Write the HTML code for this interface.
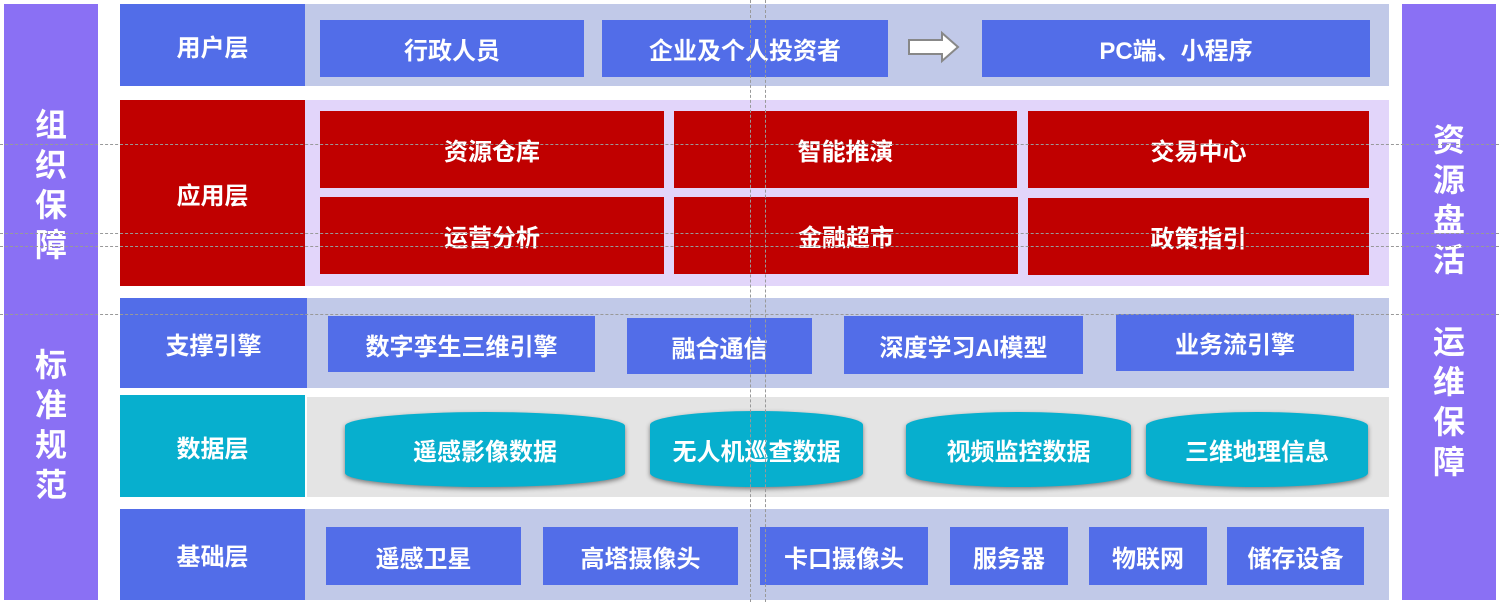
<!DOCTYPE html>
<html><head><meta charset="utf-8"><style>
body{margin:0;width:1499px;height:602px;position:relative;background:#fff;overflow:hidden;font-family:"Liberation Sans","Noto Sans CJK SC",sans-serif;font-weight:bold;color:#fff}
div{position:absolute;box-sizing:border-box}
.c{display:flex;align-items:center;justify-content:center;font-size:24px}
.b{background:#526DE8}
.r{background:#C00000}
.side{background:#8A70F4;width:94px;top:4px;height:596px}
.v{font-size:32px;line-height:40px;width:94px;text-align:center}
.cyl{background:#07AFCE;border-radius:50%/14px;box-shadow:0 2px 5px rgba(0,0,0,.45)}
.dh{left:0;width:1499px;height:0;border-top:1px dashed #999}
.dv{top:0;height:602px;width:0;border-left:1px dashed #999}
</style></head><body>
<div class="side" style="left:4px"></div>
<div class="side" style="left:1402px"></div>
<div class="v" style="left:4px;top:105px">组<br>织<br>保<br>障</div>
<div class="v" style="left:4px;top:345px">标<br>准<br>规<br>范</div>
<div class="v" style="left:1402px;top:120px">资<br>源<br>盘<br>活</div>
<div class="v" style="left:1402px;top:322px">运<br>维<br>保<br>障</div>

<div style="left:305px;top:4px;width:1084px;height:82px;background:#C1C9E8"></div>
<div class="c b" style="left:120px;top:4px;width:185px;height:82px">用户层</div>
<div class="c b" style="left:320px;top:20px;width:264px;height:57px">行政人员</div>
<div class="c b" style="left:602px;top:20px;width:286px;height:57px">企业及个人投资者</div>
<svg style="position:absolute;left:906px;top:30px" width="60" height="34"><polygon points="3,10 36,10 36,3 52,17 36,31 36,24 3,24" fill="#fff" stroke="#888" stroke-width="2"/></svg>
<div class="c b" style="left:982px;top:20px;width:388px;height:57px">PC端、小程序</div>

<div style="left:305px;top:100px;width:1084px;height:186px;background:#E2D5FA"></div>
<div class="c r" style="left:120px;top:100px;width:185px;height:186px">应用层</div>
<div class="c r" style="left:320px;top:111px;width:344px;height:77px">资源仓库</div>
<div class="c r" style="left:674px;top:111px;width:343px;height:77px">智能推演</div>
<div class="c r" style="left:1028px;top:111px;width:341px;height:77px">交易中心</div>
<div class="c r" style="left:320px;top:197px;width:344px;height:77px">运营分析</div>
<div class="c r" style="left:674px;top:197px;width:344px;height:77px">金融超市</div>
<div class="c r" style="left:1028px;top:198px;width:341px;height:77px">政策指引</div>

<div style="left:307px;top:298px;width:1082px;height:90px;background:#C1C9E8"></div>
<div class="c b" style="left:120px;top:298px;width:187px;height:90px">支撑引擎</div>
<div class="c b" style="left:328px;top:316px;width:267px;height:56px">数字孪生三维引擎</div>
<div class="c b" style="left:627px;top:318px;width:185px;height:56px">融合通信</div>
<div class="c b" style="left:844px;top:316px;width:239px;height:58px">深度学习AI模型</div>
<div class="c b" style="left:1116px;top:314px;width:238px;height:57px">业务流引擎</div>

<div style="left:307px;top:397px;width:1082px;height:100px;background:#E4E4E4"></div>
<div class="c" style="left:120px;top:395px;width:185px;height:102px;background:#07AFCE">数据层</div>
<div class="c cyl" style="left:345px;top:412px;width:280px;height:75px">遥感影像数据</div>
<div class="c cyl" style="left:650px;top:411px;width:213px;height:76px">无人机巡查数据</div>
<div class="c cyl" style="left:906px;top:412px;width:225px;height:75px">视频监控数据</div>
<div class="c cyl" style="left:1146px;top:412px;width:222px;height:75px">三维地理信息</div>

<div style="left:305px;top:509px;width:1084px;height:91px;background:#C1C9E8"></div>
<div class="c b" style="left:120px;top:509px;width:185px;height:91px">基础层</div>
<div class="c b" style="left:326px;top:527px;width:195px;height:58px">遥感卫星</div>
<div class="c b" style="left:543px;top:527px;width:195px;height:58px">高塔摄像头</div>
<div class="c b" style="left:760px;top:527px;width:168px;height:58px">卡口摄像头</div>
<div class="c b" style="left:950px;top:527px;width:118px;height:58px">服务器</div>
<div class="c b" style="left:1089px;top:527px;width:118px;height:58px">物联网</div>
<div class="c b" style="left:1227px;top:527px;width:137px;height:58px">储存设备</div>

<div class="dh" style="top:144px"></div>
<div class="dh" style="top:233px"></div>
<div class="dh" style="top:246px"></div>
<div class="dh" style="top:314px"></div>
<div class="dv" style="left:750px"></div>
<div class="dv" style="left:765px"></div>
</body></html>
